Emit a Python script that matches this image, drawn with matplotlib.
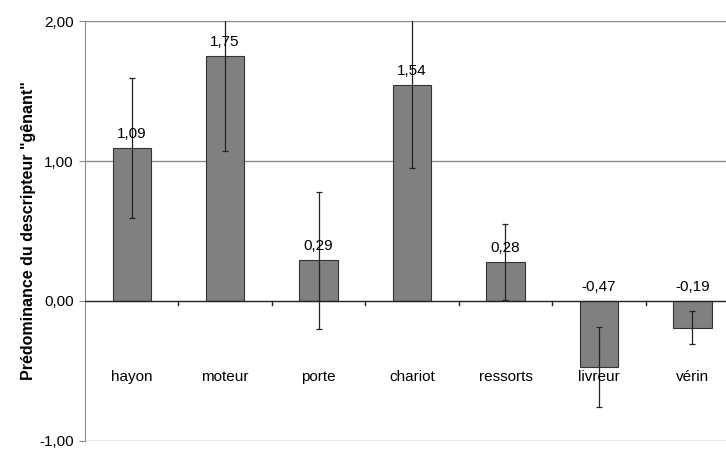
import matplotlib
matplotlib.use("Agg")
import matplotlib.pyplot as plt

# Données
categories = ["hayon", "moteur", "porte", "chariot", "ressorts", "livreur", "vérin"]
valeurs = [1.09, 1.75, 0.29, 1.54, 0.28, -0.47, -0.19]
erreurs = [0.50, 0.68, 0.49, 0.59, 0.27, 0.285, 0.115]
yticks = [-1.0, 0.0, 1.0, 2.0]

plt.rcParams["font.family"] = ["Liberation Sans", "DejaVu Sans"]

fig = plt.figure(figsize=(7.26, 4.49), dpi=100)
ax = fig.add_axes([0.117, 0.018, 0.883, 0.935])

x = list(range(len(categories)))

# Grille horizontale
for t in yticks:
    if t != 0:
        ax.axhline(t, color="#8c8c8c", lw=1, zorder=0)

bars = ax.bar(x, valeurs, width=0.41, color="#808080", edgecolor="#333333",
              linewidth=0.8, zorder=2)
ax.errorbar(x, valeurs, yerr=erreurs, fmt="none", ecolor="#222222",
            elinewidth=0.9, capsize=2.5, capthick=0.9, zorder=3)

# Ligne du zéro avec graduations entre catégories
ax.axhline(0, color="#222222", lw=1, zorder=4)
for b in [i + 0.5 for i in range(len(categories) - 1)]:
    ax.plot([b, b], [0, -0.028], color="#222222", lw=1, zorder=4)

# Etiquettes des valeurs
for xi, v in zip(x, valeurs):
    ax.text(xi, max(v, 0) + 0.05, f"{v:.2f}".replace(".", ","),
            ha="center", va="bottom", fontsize=11)

# Etiquettes des catégories
for xi, c in zip(x, categories):
    ax.text(xi, -0.54, c, ha="center", va="center", fontsize=11)

ax.set_xlim(-0.5, 6.36)
ax.set_ylim(-1.0, 2.0)
ax.set_xticks([])
ax.set_yticks(yticks)
ax.set_yticklabels([f"{t:.2f}".replace(".", ",") for t in yticks], fontsize=11)
ax.tick_params(axis="y", length=4, color="#8c8c8c", pad=4)

for s in ["top", "right", "bottom"]:
    ax.spines[s].set_visible(False)
ax.spines["left"].set_color("#8c8c8c")

ax.set_ylabel('Prédominance du descripteur "gênant"', fontsize=11.5,
              fontweight="bold", labelpad=2)

fig.savefig("out.png", dpi=100)
